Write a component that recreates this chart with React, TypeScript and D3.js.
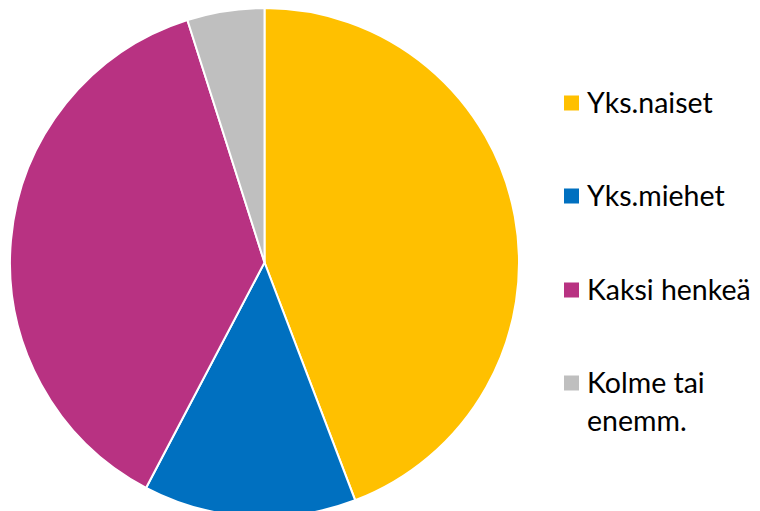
import React from "react";
import * as d3 from "d3";

const categories = ["Yks.naiset", "Yks.miehet", "Kaksi henkeä", "Kolme tai enemm."];
const legendLines = [["Yks.naiset"], ["Yks.miehet"], ["Kaksi henkeä"], ["Kolme tai", "enemm."]];
const values = [44.2, 13.5, 37.4, 4.9];
const colors = ["#FFC000", "#0070C0", "#B83282", "#BFBFBF"];

export default function App() {
  const width = 760, height = 511;
  const cx = 264.5, cy = 262.5, r = 254.5;
  const pie = d3.pie<number>().sort(null).value((d) => d)(values);
  const arc = d3.arc<d3.PieArcDatum<number>>().innerRadius(0).outerRadius(r);
  const rowY = [103, 196, 290, 383];
  return (
    <svg width={width} height={height} style={{ position: "absolute", left: 0, top: 0 }}>
      <rect width={width} height={height} fill="#fff" />
      <g transform={`translate(${cx},${cy})`}>
        {pie.map((p, i) => (
          <path key={i} d={arc(p) || ""} fill={colors[i]} stroke="#fff" strokeWidth={2} />
        ))}
      </g>
      {categories.map((c, i) => (
        <g key={c}>
          <rect x={564} y={rowY[i] - 7.5} width={15} height={15} fill={colors[i]} />
          <text x={587} y={rowY[i]} fontFamily="Lato, sans-serif" fontSize={28.5} fill="#000">
            {legendLines[i].map((l, j) => (
              <tspan key={j} x={587} dy={j === 0 ? "0.34em" : 38}>{l}</tspan>
            ))}
          </text>
        </g>
      ))}
    </svg>
  );
}
